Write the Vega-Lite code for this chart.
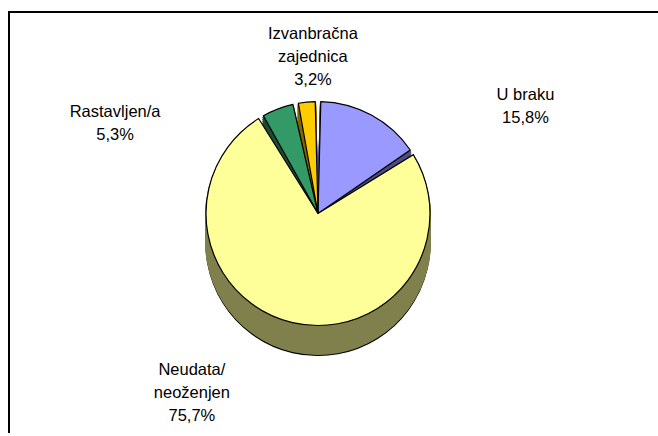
{
  "$schema": "https://vega.github.io/schema/vega-lite/v6.json",
  "width": 658,
  "height": 436,
  "autosize": {"type": "fit", "contains": "padding"},
  "padding": {"left": 9, "top": 9, "right": 0, "bottom": 0},
  "view": {"stroke": "black", "strokeWidth": 2, "strokeDash": [649, 1076, 427]},
  "config": {
    "view": {"stroke": "black", "strokeWidth": 2, "strokeDash": [649, 1076, 427]},
    "font": "Liberation Sans"
  },
  "data": {
    "values": [
      {"cat": "U braku", "value": 15.8, "o": 1, "label": ["U braku", "15,8%"]},
      {"cat": "Neudata/ neoženjen", "value": 75.7, "o": 2, "label": ["Neudata/", "neoženjen", "75,7%"]},
      {"cat": "Rastavljen/a", "value": 5.3, "o": 3, "label": ["Rastavljen/a", "5,3%"]},
      {"cat": "Izvanbračna zajednica", "value": 3.2, "o": 4, "label": ["Izvanbračna", "zajednica", "3,2%"]}
    ]
  },
  "layer": [
    {"mark": {"type": "point", "opacity": 0},
     "encoding": {"x": {"field": "value", "type": "quantitative", "axis": null}, "y": {"field": "o", "type": "quantitative", "axis": null}}},
    {"encoding": {
       "theta": {"field": "value", "type": "quantitative", "stack": true},
       "order": {"field": "o", "type": "quantitative"}
     },
     "layer": [
    {"mark": {"type": "arc", "outerRadius": 112, "padAngle": 0.05, "xOffset": -15.5, "yOffset": 19.5, "stroke": "black", "strokeWidth": 1.2},
     "encoding": {"fill": {"field": "cat", "type": "nominal", "legend": null, "scale": {"domain": ["U braku", "Neudata/ neoženjen", "Rastavljen/a", "Izvanbračna zajednica"], "range": ["#4D4D80", "#80804D", "#1A4D33", "#806600"]}}}},
    {"mark": {"type": "arc", "outerRadius": 112, "padAngle": 0.05, "xOffset": -15.5, "yOffset": 17.5, "strokeWidth": 2},
     "encoding": {"fill": {"field": "cat", "type": "nominal", "legend": null}, "stroke": {"field": "cat", "type": "nominal", "legend": null, "scale": {"domain": ["U braku", "Neudata/ neoženjen", "Rastavljen/a", "Izvanbračna zajednica"], "range": ["#4D4D80", "#80804D", "#1A4D33", "#806600"]}}}},
    {"mark": {"type": "arc", "outerRadius": 112, "padAngle": 0.05, "xOffset": -15.5, "yOffset": 15.5, "strokeWidth": 2},
     "encoding": {"fill": {"field": "cat", "type": "nominal", "legend": null}, "stroke": {"field": "cat", "type": "nominal", "legend": null}}},
    {"mark": {"type": "arc", "outerRadius": 112, "padAngle": 0.05, "xOffset": -15.5, "yOffset": 13.5, "strokeWidth": 2},
     "encoding": {"fill": {"field": "cat", "type": "nominal", "legend": null}, "stroke": {"field": "cat", "type": "nominal", "legend": null}}},
    {"mark": {"type": "arc", "outerRadius": 112, "padAngle": 0.05, "xOffset": -15.5, "yOffset": 11.5, "strokeWidth": 2},
     "encoding": {"fill": {"field": "cat", "type": "nominal", "legend": null}, "stroke": {"field": "cat", "type": "nominal", "legend": null}}},
    {"mark": {"type": "arc", "outerRadius": 112, "padAngle": 0.05, "xOffset": -15.5, "yOffset": 9.5, "strokeWidth": 2},
     "encoding": {"fill": {"field": "cat", "type": "nominal", "legend": null}, "stroke": {"field": "cat", "type": "nominal", "legend": null}}},
    {"mark": {"type": "arc", "outerRadius": 112, "padAngle": 0.05, "xOffset": -15.5, "yOffset": 7.5, "strokeWidth": 2},
     "encoding": {"fill": {"field": "cat", "type": "nominal", "legend": null}, "stroke": {"field": "cat", "type": "nominal", "legend": null}}},
    {"mark": {"type": "arc", "outerRadius": 112, "padAngle": 0.05, "xOffset": -15.5, "yOffset": 5.5, "strokeWidth": 2},
     "encoding": {"fill": {"field": "cat", "type": "nominal", "legend": null}, "stroke": {"field": "cat", "type": "nominal", "legend": null}}},
    {"mark": {"type": "arc", "outerRadius": 112, "padAngle": 0.05, "xOffset": -15.5, "yOffset": 3.5, "strokeWidth": 2},
     "encoding": {"fill": {"field": "cat", "type": "nominal", "legend": null}, "stroke": {"field": "cat", "type": "nominal", "legend": null}}},
    {"mark": {"type": "arc", "outerRadius": 112, "padAngle": 0.05, "xOffset": -15.5, "yOffset": 1.5, "strokeWidth": 2},
     "encoding": {"fill": {"field": "cat", "type": "nominal", "legend": null}, "stroke": {"field": "cat", "type": "nominal", "legend": null}}},
    {"mark": {"type": "arc", "outerRadius": 112, "padAngle": 0.05, "xOffset": -15.5, "yOffset": -0.5, "strokeWidth": 2},
     "encoding": {"fill": {"field": "cat", "type": "nominal", "legend": null}, "stroke": {"field": "cat", "type": "nominal", "legend": null}}},
    {"mark": {"type": "arc", "outerRadius": 112, "padAngle": 0.05, "xOffset": -15.5, "yOffset": -2.5, "strokeWidth": 2},
     "encoding": {"fill": {"field": "cat", "type": "nominal", "legend": null}, "stroke": {"field": "cat", "type": "nominal", "legend": null}}},
    {"mark": {"type": "arc", "outerRadius": 112, "padAngle": 0.05, "xOffset": -15.5, "yOffset": -4.5, "strokeWidth": 2},
     "encoding": {"fill": {"field": "cat", "type": "nominal", "legend": null}, "stroke": {"field": "cat", "type": "nominal", "legend": null}}},
    {"mark": {"type": "arc", "outerRadius": 112, "padAngle": 0.05, "xOffset": -15.5, "yOffset": -6.5, "strokeWidth": 2},
     "encoding": {"fill": {"field": "cat", "type": "nominal", "legend": null}, "stroke": {"field": "cat", "type": "nominal", "legend": null}}},
    {"mark": {"type": "arc", "outerRadius": 112, "padAngle": 0.05, "xOffset": -15.5, "yOffset": -8.5, "strokeWidth": 2},
     "encoding": {"fill": {"field": "cat", "type": "nominal", "legend": null}, "stroke": {"field": "cat", "type": "nominal", "legend": null}}},
    {"mark": {"type": "arc", "outerRadius": 112, "padAngle": 0.05, "xOffset": -15.5, "yOffset": -10.5, "stroke": "black", "strokeWidth": 1.2},
     "encoding": {"color": {"field": "cat", "type": "nominal", "legend": null, "scale": {"domain": ["U braku", "Neudata/ neoženjen", "Rastavljen/a", "Izvanbračna zajednica"], "range": ["#9999FF", "#FFFF99", "#339966", "#FFCC00"]}}}},
    {"mark": {"type": "text", "font": "Liberation Sans", "fontSize": 16.5, "lineHeight": 23, "baseline": "middle", "align": "center", "color": "black",
              "xOffset": -15.5, "yOffset": -10.5, "radius": 150,
              "dx": {"expr": "datum.o == 1 ? 136 : datum.o == 2 ? -92 : datum.o == 3 ? -149 : 10"},
              "dy": {"expr": "datum.o == 1 ? 13 : datum.o == 2 ? 10 : datum.o == 3 ? 38 : -30"}},
     "encoding": {"text": {"field": "label", "type": "nominal"}}}
     ]
    }
  ]
}
